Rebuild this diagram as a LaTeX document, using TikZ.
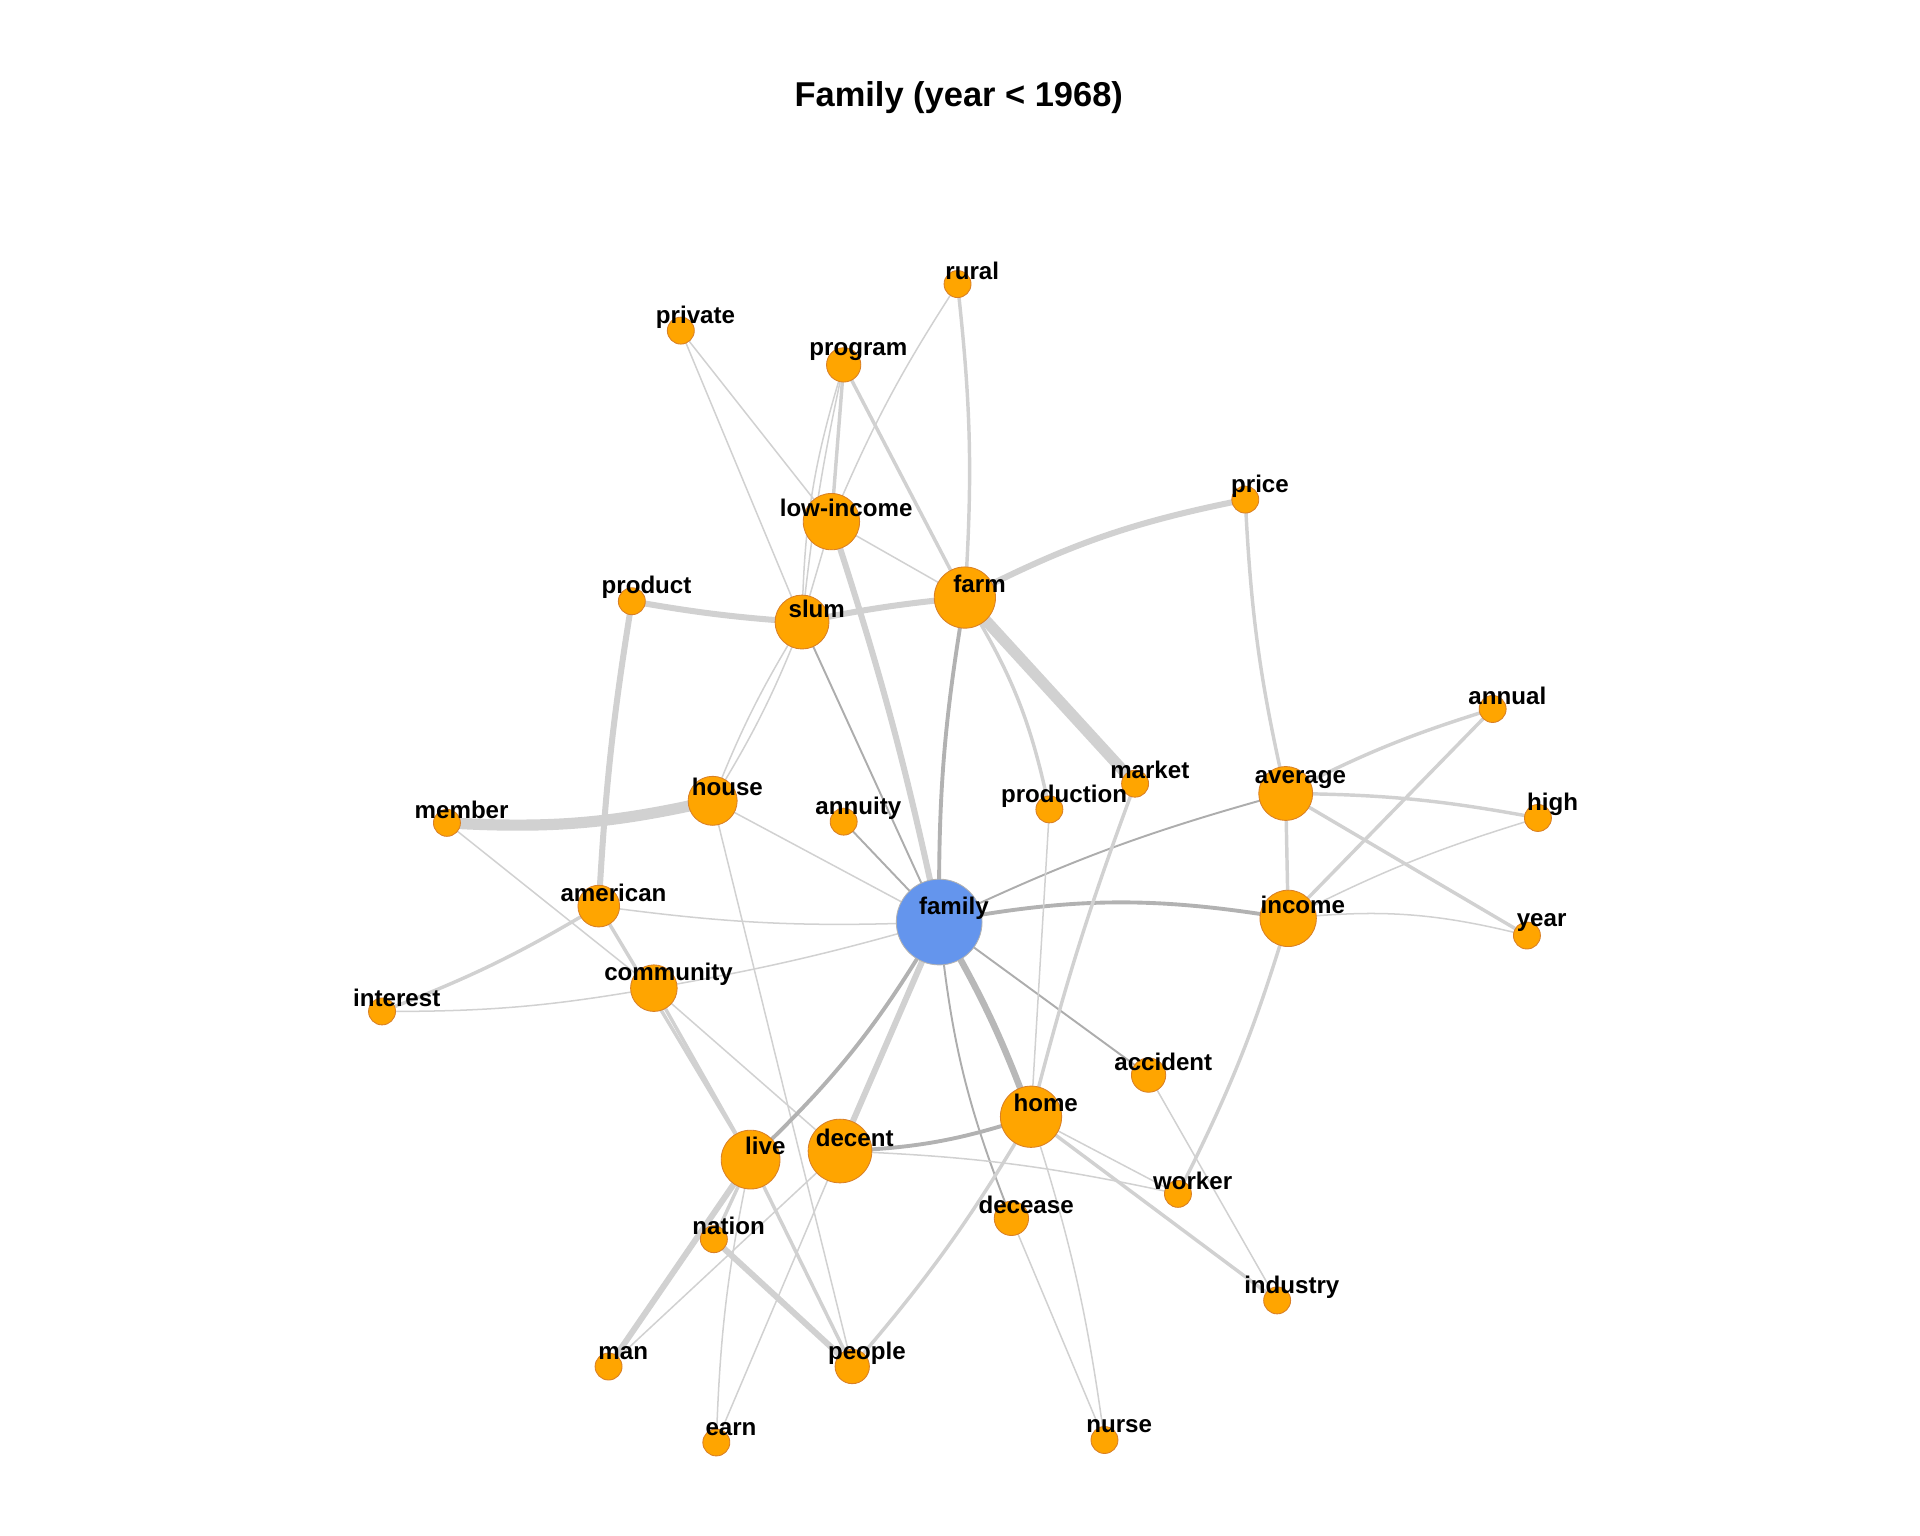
\documentclass[tikz,border=0pt]{standalone}
\usepackage{fontspec}
\setmainfont{Liberation Sans}
\definecolor{nodeor}{HTML}{FFA500}
\definecolor{nodebl}{HTML}{6495ED}
\begin{document}
\begin{tikzpicture}[x=0.01cm,y=-0.01cm,
 big/.style={circle,fill=nodeor,draw=orange!70!gray,line width=0.2pt,inner sep=0pt},
 fam/.style={circle,fill=nodebl,draw=gray!60,line width=0.2pt,inner sep=0pt},
 lab/.style={font=\bfseries\fontsize{5.6}{6}\selectfont,inner sep=0pt},
 e1/.style={draw=black!18,line width=0.35pt},
 e2/.style={draw=black!18,line width=0.8pt},
 e3/.style={draw=black!18,line width=1.4pt},
 e4/.style={draw=black!18,line width=2.6pt},
 d1/.style={draw=black!32,line width=0.45pt},
 d2/.style={draw=black!30,line width=0.9pt},
 d3/.style={draw=black!28,line width=1.5pt}]
\useasboundingbox (0,0) rectangle (1568,1254);
\node[font=\bfseries\fontsize{8}{9}\selectfont] (title) at (783,80) {Family (year < 1968)};
\foreach \n/\x/\y in {farm/788/488,lowincome/679/426,slum/655/508,house/582/654,american/489/740,community/534/807,live/613/947,decent/686/940,home/842/912,income/1052/750,average/1050/648,rural/782/232,private/556/270,program/689/298,price/1017/408,product/516/491,member/365/672,annuity/689/671,production/857/661,market/927/640,annual/1219/579,high/1256/668,year/1247/764,interest/312/826,accident/938/878,worker/962/975,decease/826/995,nation/583/1012,industry/1043/1062,man/497/1116,people/696/1116,earn/585/1178,nurse/902/1176}
  \coordinate (\n) at (\x,\y);
\coordinate (family) at (767,753);
\begin{scope}
\path[e2] (rural) to[bend left=5] (farm);
\path[e1] (rural) to[bend right=5] (lowincome);
\path[e1] (private) -- (lowincome); \path[e1] (private) -- (slum);
\path[e2] (program) -- (lowincome); \path[e1] (program) to[bend right=8] (slum); \path[e1] (program) to[bend right=3] (slum);
\path[e2] (program) -- (farm);
\path[e1] (lowincome) -- (farm); \path[e3] (lowincome) to[bend left=3] (family); \path[e1] (lowincome) -- (slum);
\path[e3] (slum) to[bend left=3] (product); \path[e3] (slum) to[bend left=3] (farm);
\path[e1] (slum) to[bend left=5] (house); \path[e1] (slum) to[bend right=5] (house);
\path[d1] (slum) -- (family);
\path[e3] (farm) to[bend left=8] (price); \path[e4] (farm) -- (market); \path[e2] (farm) to[bend left=10] (production);
\path[d2] (farm) to[bend right=5] (family);
\path[e2] (price) to[bend right=5] (average);
\path[e3] (product) to[bend right=3] (american);
\path[e4] (member) to[bend right=8] (house);
\path[e1] (member) -- (community);
\path[e1] (house) -- (family); \path[e1] (house) -- (people);
\path[d1] (annuity) -- (family);
\path[e1] (american) to[bend right=5] (family); \path[e2] (american) to[bend left=5] (interest); \path[e2] (american) -- (live);
\path[e1] (community) to[bend left=5] (interest); \path[e1] (community) to[bend right=3] (family); \path[e2] (community) -- (live); \path[e1] (community) -- (decent);
\path[d2] (family) to[bend left=8] (live); \path[e3] (family) -- (decent); \path[d3] (family) to[bend left=5] (home);
\path[d1] (family) to[bend right=8] (decease); \path[d1] (family) -- (accident);
\path[d2] (family) to[bend left=10] (income); \path[d1] (family) to[bend left=5] (average);
\path[e2] (market) to[bend right=3] (home); \path[e1] (production) -- (home);
\path[e2] (average) to[bend left=5] (annual); \path[e2] (average) to[bend left=5] (high); \path[e2] (average) -- (year); \path[e2] (average) -- (income);
\path[e2] (income) -- (annual); \path[e1] (income) to[bend left=5] (high); \path[e1] (income) to[bend left=10] (year);
\path[e2] (income) to[bend left=5] (worker);
\path[e1] (accident) -- (industry);
\path[d2] (home) to[bend left=8] (decent); \path[e1] (home) -- (worker); \path[e2] (home) -- (industry); \path[e1] (home) to[bend left=5] (nurse); \path[e2] (home) to[bend left=5] (people);
\path[e1] (decent) to[bend left=5] (worker); \path[e1] (decent) -- (earn); \path[e1] (decent) -- (man);
\path[e3] (live) -- (man); \path[e2] (live) -- (nation); \path[e2] (live) -- (people); \path[e1] (live) to[bend right=5] (earn);
\path[e3] (nation) -- (people); \path[e1] (decease) -- (nurse);
\end{scope}
\node[fam,minimum size={70*0.2845pt}] (familyn) at (family) {};
\foreach \n/\r in {farm/25,lowincome/23,slum/22,house/20,american/17,community/19,live/24,decent/26,home/25,income/23,average/22,rural/11,private/11,program/14,price/11,product/11,member/11,annuity/11,production/11,market/11,annual/11,high/11,year/11,interest/11,accident/14,worker/11,decease/14,nation/11,industry/11,man/11,people/14,earn/11,nurse/11}
  \node[big,minimum size={2*\r*0.2845pt}] (\n n) at (\n) {};
\foreach \n/\t in {family/family,farm/farm,lowincome/low-income,slum/slum,house/house,american/american,community/community,live/live,decent/decent,home/home,income/income,average/average,rural/rural,private/private,program/program,price/price,product/product,member/member,annuity/annuity,production/production,market/market,annual/annual,high/high,year/year,interest/interest,accident/accident,worker/worker,decease/decease,nation/nation,industry/industry,man/man,people/people,earn/earn,nurse/nurse}
  \node[lab] (\n l) at ([shift={(12,-11)}]\n) {\t};
\end{tikzpicture}
\end{document}
